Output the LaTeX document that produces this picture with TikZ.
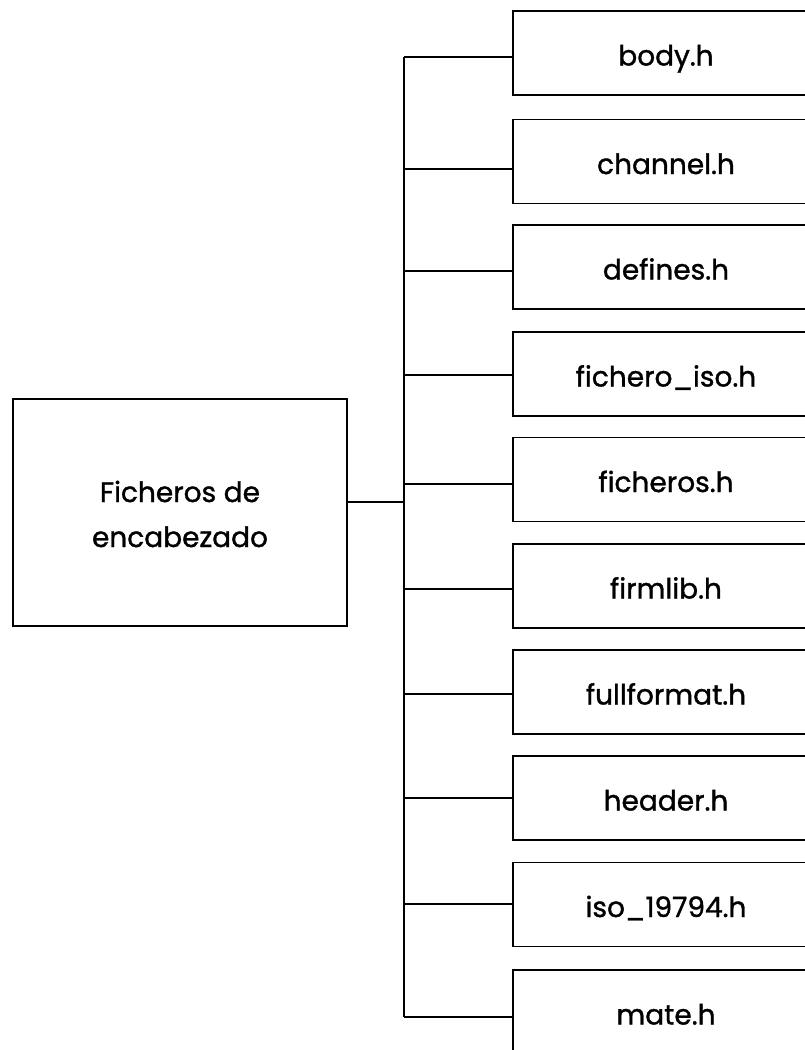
\documentclass[tikz,border=0pt]{standalone}
\usepackage{fontspec}
\setmainfont{Poppins}[FakeBold=1.2]
\tikzset{
  leafbox/.style={draw, line width=1.6pt, minimum width=306pt, minimum height=84pt,
    inner sep=0pt, text height=25pt, text depth=0pt, font=\fontsize{28}{34}\selectfont},
  mainbox/.style={draw, line width=1.6pt, minimum width=334pt, minimum height=227pt,
    inner sep=0pt, text height=0pt, text depth=21pt, font=\fontsize{28}{45}\selectfont},
  conn/.style={line width=1.6pt}
}
\begin{document}
\begin{tikzpicture}[x=1pt,y=-1pt]
\useasboundingbox (0,0) rectangle (805,1050);
\fill[white] (0,0) rectangle (805,1050);
\clip (0,0) rectangle (805,1050);
\node[mainbox] (main) at (180,512.5) {\begin{tabular}[t]{@{}c@{}}Ficheros de\\encabezado\end{tabular}};
\node[leafbox] (b1) at (666,53) {body.h};
\node[leafbox] (b2) at (666,161.5) {channel.h};
\node[leafbox] (b3) at (666,267) {defines.h};
\node[leafbox] (b4) at (666,374) {fichero\_iso.h};
\node[leafbox] (b5) at (666,479.5) {ficheros.h};
\node[leafbox] (b6) at (666,586) {firmlib.h};
\node[leafbox] (b7) at (666,692) {fullformat.h};
\node[leafbox] (b8) at (666,798) {header.h};
\node[leafbox] (b9) at (666,904.5) {iso\_19794.h};
\node[leafbox] (b10) at (666,1012) {mate.h};
\coordinate (jt) at (404,57);
\coordinate (jb) at (404,1017);
\draw[conn] (jt) -- (jb);
\foreach \n/\o in {b1/4,b2/7.5,b3/4,b4/1,b5/4.5,b6/3,b7/2,b8/0,b9/-0.5,b10/5}
  \draw[conn] ([yshift=-\o pt]\n.west) -- ([yshift=-\o pt]\n.west -| jt);
\draw[conn] ([yshift=10.5pt]main.east) -- ([yshift=10.5pt]main.east -| jt);
\end{tikzpicture}
\end{document}
